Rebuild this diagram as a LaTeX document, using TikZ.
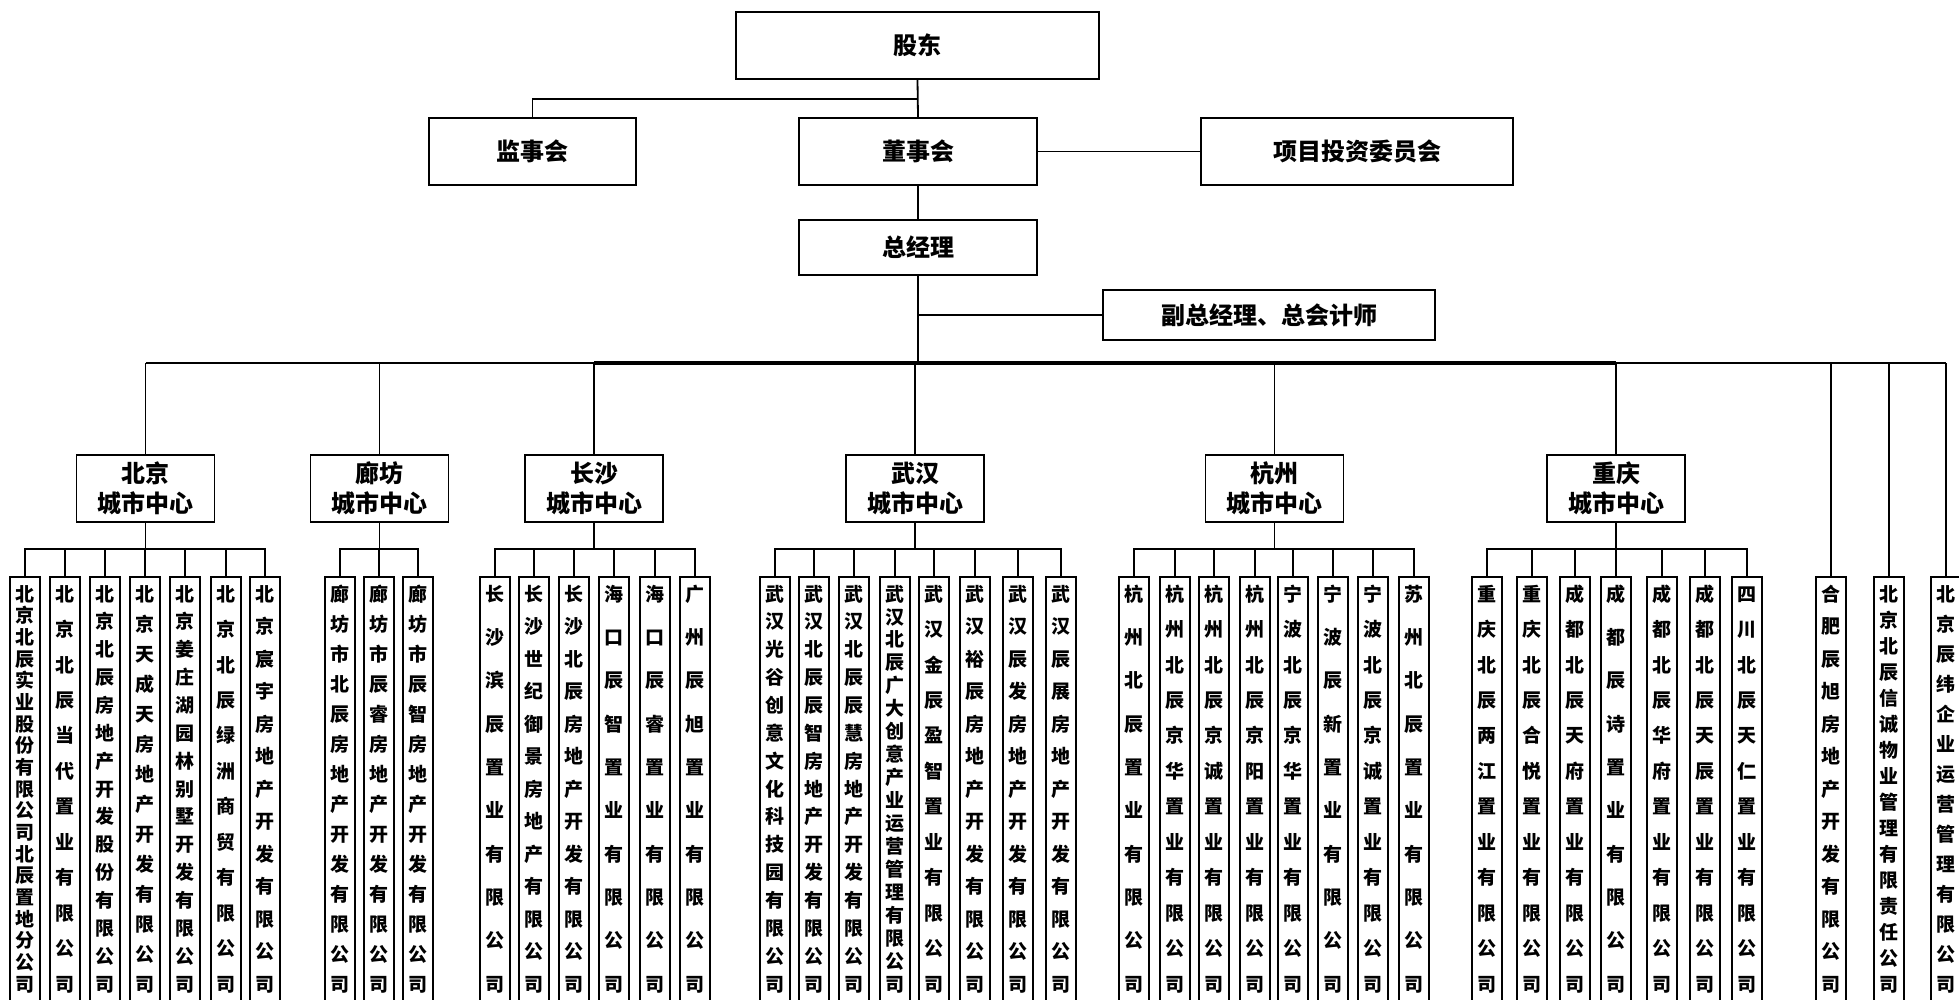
\documentclass[tikz,border=0pt]{standalone}
\usepackage{fontspec}
\setmainfont{Noto Sans CJK SC}
\ExplSyntaxOn
\cs_new_eq:NN \mapchars \tl_map_inline:nn
\ExplSyntaxOff
\newcommand\vdist[1]{\vbox to 436.5pt{\offinterlineskip\kern7.5pt\vskip0pt plus -1fill\mapchars{#1}{\vskip0pt plus 1fill\hbox to 30pt{\hss\vrule height 16.7pt depth 2.3pt width 0pt\smash{##1}\hss}}\kern20pt}}
\begin{document}
\begin{tikzpicture}[x=1pt,y=-1pt,
  box/.style={draw, line width=1.8pt, inner sep=0pt, align=center, font=\fontsize{24}{30}\selectfont\bfseries},
  leaf/.style={draw, line width=1.8pt, inner sep=0pt, anchor=north, font=\fontsize{19}{19}\selectfont\bfseries},
  conn/.style={line width=1.8pt},
  bus/.style={line width=3.6pt}]
\useasboundingbox (0,0) rectangle (1959,1000);
\fill[white] (0,0) rectangle (1959,1000);
\clip (0,0) rectangle (1959,1000);
\newcommand\leaf[3]{\node[leaf] (#1) at (#2,576) {\vdist{#3}};}
% top
\node[box, minimum width=363pt, minimum height=67pt] (gd) at (917.5,45.5) {股东};
\node[box, minimum width=207pt, minimum height=67pt] (jsh) at (532.5,151.5) {监事会};
\node[box, minimum width=238pt, minimum height=67pt] (dsh) at (918,151.5) {董事会};
\node[box, minimum width=312pt, minimum height=67pt] (xm) at (1357,151.5) {项目投资委员会};
\node[box, minimum width=238pt, minimum height=55pt] (zjl) at (918,247.5) {总经理};
\node[box, minimum width=332pt, minimum height=50pt] (fz) at (1269,315) {副总经理、总会计师};
% city centres
\node[box, minimum width=138pt, minimum height=67pt] (bj) at (145.5,488.5) {北京\\城市中心};
\node[box, minimum width=138pt, minimum height=67pt] (lf) at (379.5,488.5) {廊坊\\城市中心};
\node[box, minimum width=138pt, minimum height=67pt] (cs) at (594,488.5) {长沙\\城市中心};
\node[box, minimum width=138pt, minimum height=67pt] (wh) at (915,488.5) {武汉\\城市中心};
\node[box, minimum width=138pt, minimum height=67pt] (hz) at (1274.5,488.5) {杭州\\城市中心};
\node[box, minimum width=138pt, minimum height=67pt] (cq) at (1616,488.5) {重庆\\城市中心};
% leaves
\leaf{b1}{25}{北京北辰实业股份有限公司北辰置地分公司}
\leaf{b2}{65}{北京北辰当代置业有限公司}
\leaf{b3}{105}{北京北辰房地产开发股份有限公司}
\leaf{b4}{145}{北京天成天房地产开发有限公司}
\leaf{b5}{185}{北京姜庄湖园林别墅开发有限公司}
\leaf{b6}{226}{北京北辰绿洲商贸有限公司}
\leaf{b7}{265}{北京宸宇房地产开发有限公司}
\leaf{f1}{340}{廊坊市北辰房地产开发有限公司}
\leaf{f2}{379}{廊坊市辰睿房地产开发有限公司}
\leaf{f3}{418}{廊坊市辰智房地产开发有限公司}
\leaf{s1}{495}{长沙滨辰置业有限公司}
\leaf{s2}{534}{长沙世纪御景房地产有限公司}
\leaf{s3}{574}{长沙北辰房地产开发有限公司}
\leaf{s4}{614}{海口辰智置业有限公司}
\leaf{s5}{655}{海口辰睿置业有限公司}
\leaf{s6}{695}{广州辰旭置业有限公司}
\leaf{w1}{775}{武汉光谷创意文化科技园有限公司}
\leaf{w2}{814}{武汉北辰辰智房地产开发有限公司}
\leaf{w3}{854}{武汉北辰辰慧房地产开发有限公司}
\leaf{w4}{895}{武汉北辰广大创意产业运营管理有限公司}
\leaf{w5}{934}{武汉金辰盈智置业有限公司}
\leaf{w6}{975}{武汉裕辰房地产开发有限公司}
\leaf{w7}{1018}{武汉辰发房地产开发有限公司}
\leaf{w8}{1061}{武汉辰展房地产开发有限公司}
\leaf{h1}{1134}{杭州北辰置业有限公司}
\leaf{h2}{1175}{杭州北辰京华置业有限公司}
\leaf{h3}{1214}{杭州北辰京诚置业有限公司}
\leaf{h4}{1255}{杭州北辰京阳置业有限公司}
\leaf{h5}{1293}{宁波北辰京华置业有限公司}
\leaf{h6}{1333}{宁波辰新置业有限公司}
\leaf{h7}{1373}{宁波北辰京诚置业有限公司}
\leaf{h8}{1414}{苏州北辰置业有限公司}
\leaf{q1}{1487}{重庆北辰两江置业有限公司}
\leaf{q2}{1532}{重庆北辰合悦置业有限公司}
\leaf{q3}{1575}{成都北辰天府置业有限公司}
\leaf{q4}{1616}{成都辰诗置业有限公司}
\leaf{q5}{1662}{成都北辰华府置业有限公司}
\leaf{q6}{1705}{成都北辰天辰置业有限公司}
\leaf{q7}{1747}{四川北辰天仁置业有限公司}
\leaf{i1}{1831}{合肥辰旭房地产开发有限公司}
\leaf{i2}{1889}{北京北辰信诚物业管理有限责任公司}
\leaf{i3}{1946}{北京辰纬企业运营管理有限公司}
% top connectors
\coordinate (l1) at (0,99);
\coordinate (busy) at (0,363);
\coordinate (lvl) at (0,549);
\draw[conn] (gd.south) -- (dsh.north);
\draw[conn] (gd.south |- l1) -| (jsh.north);
\draw[conn] (dsh.east) -- (xm.west);
\draw[conn] (dsh.south) -- (zjl.north);
\draw[conn] (zjl.south) -- (zjl.south |- busy);
\draw[conn] (zjl.south |- fz.west) -- (fz.west);
% bus
\draw[conn] (bj.north |- busy) -- (cs.north |- busy);
\draw[bus] (cs.north |- busy) -- (cq.north |- busy);
\draw[conn] (cq.north |- busy) -- (i3.north |- busy);
\foreach \k in {bj,lf,cs,wh,hz,cq,i1,i2,i3} \draw[conn] (\k.north |- busy) -- (\k.north);
% groups
\foreach \k in {b1,b2,b3,b4,b5,b6,b7} \draw[conn] (bj.south) -- (bj.south |- lvl) -| (\k.north);
\foreach \k in {f1,f2,f3} \draw[conn] (lf.south) -- (lf.south |- lvl) -| (\k.north);
\foreach \k in {s1,s2,s3,s4,s5,s6} \draw[conn] (cs.south) -- (cs.south |- lvl) -| (\k.north);
\foreach \k in {w1,w2,w3,w4,w5,w6,w7,w8} \draw[conn] (wh.south) -- (wh.south |- lvl) -| (\k.north);
\foreach \k in {h1,h2,h3,h4,h5,h6,h7,h8} \draw[conn] (hz.south) -- (hz.south |- lvl) -| (\k.north);
\foreach \k in {q1,q2,q3,q4,q5,q6,q7} \draw[conn] (cq.south) -- (cq.south |- lvl) -| (\k.north);
\end{tikzpicture}
\end{document}
